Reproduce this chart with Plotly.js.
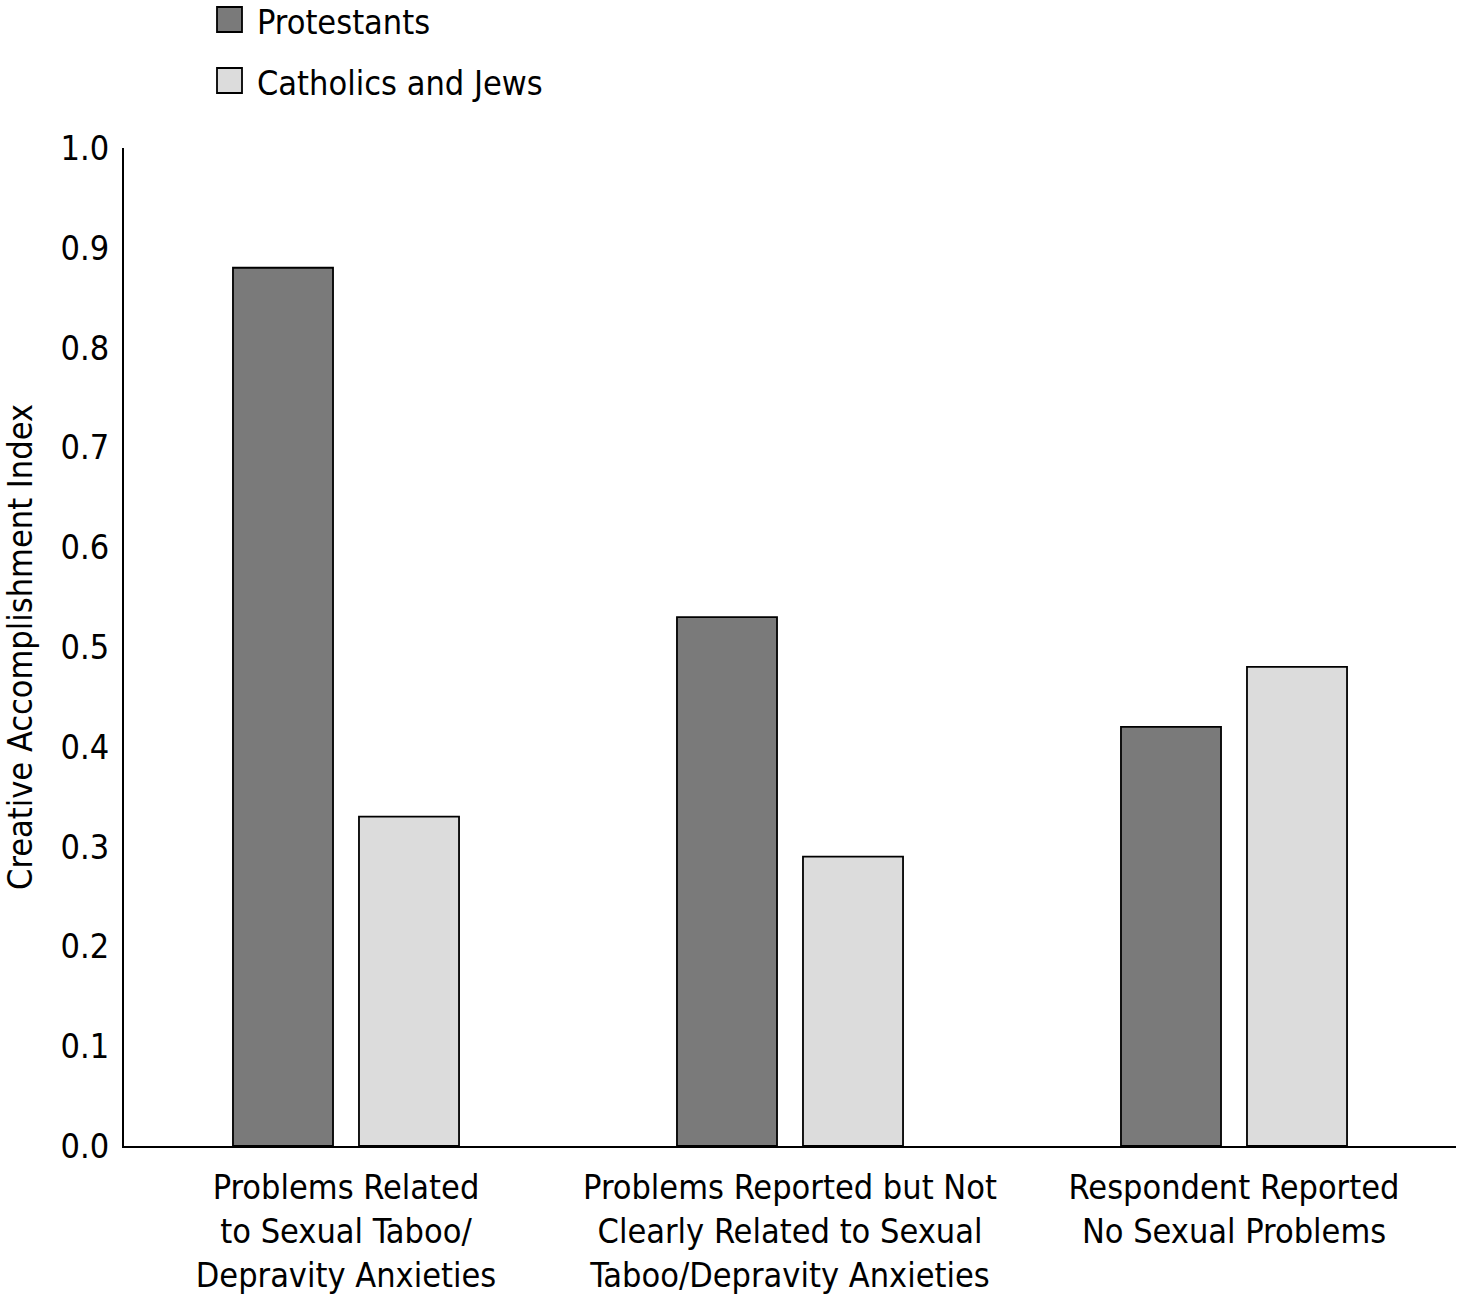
<!DOCTYPE html>
<html>
<head>
<meta charset="utf-8">
<script src="https://cdn.plot.ly/plotly-3.0.1.min.js"></script>
<style>html,body{margin:0;padding:0;background:#fff;}#chart{width:1458px;height:1307px;}</style>
</head>
<body>
<div id="chart"></div>
<script>
const categories = [
  "Problems Related<br>to Sexual Taboo/<br>Depravity Anxieties",
  "Problems Reported but Not<br>Clearly Related to Sexual<br>Taboo/Depravity Anxieties",
  "Respondent Reported<br>No Sexual Problems"
];
const seriesNames = ["Protestants", "Catholics and Jews"];
const protestants = [0.88, 0.53, 0.42];
const catholicsJews = [0.33, 0.29, 0.48];
const yTicks = [0.0, 0.1, 0.2, 0.3, 0.4, 0.5, 0.6, 0.7, 0.8, 0.9, 1.0];

const FONT = "'Liberation Sans Narrow', 'DejaVu Sans Condensed', 'Roboto Condensed', Arial, sans-serif";
const colors = ["#7a7a7a", "#dcdcdc"];

const traces = [protestants, catholicsJews].map((vals, i) => ({
  type: "bar",
  name: seriesNames[i],
  x: categories,
  y: vals,
  marker: {color: colors[i], line: {color: "#000", width: 1.8}},
  showlegend: false,
  hoverinfo: "none"
}));

// manual legend (larger swatches than Plotly's legend symbols)
const shapes = [];
const annotations = [];
seriesNames.forEach((n, i) => {
  const top = i * 61;
  shapes.push({
    type: "rect", xref: "paper", yref: "paper",
    x0: (217 - 124) / 1332, x1: (242 - 124) / 1332,
    y0: 1 + (148 - top - 7) / 998, y1: 1 + (148 - top - 32) / 998,
    fillcolor: colors[i], line: {color: "#000", width: 1.8}
  });
  annotations.push({
    xref: "paper", yref: "paper",
    x: (255 - 124) / 1332, y: 1 + (148 - top) / 998,
    xanchor: "left", yanchor: "top",
    text: n, showarrow: false,
    font: {family: FONT, size: 34, color: "#000"}
  });
});

const layout = {
  width: 1458, height: 1307,
  margin: {l: 124, r: 2, t: 148, b: 161, pad: 0},
  paper_bgcolor: "#fff", plot_bgcolor: "#fff",
  font: {family: FONT, size: 34, color: "#000"},
  barmode: "group",
  bargap: 0.4324,
  bargroupgap: 0.206,
  xaxis: {
    type: "category",
    range: [-0.5, 2.5],
    showline: true, linecolor: "#000", linewidth: 2,
    showgrid: false, zeroline: false, ticks: "",
    tickfont: {family: FONT, size: 34, color: "#000"},
    ticklabelstandoff: 10
  },
  yaxis: {
    range: [0, 1.0],
    tickvals: yTicks,
    ticktext: yTicks.map(v => v.toFixed(1)),
    showline: true, linecolor: "#000", linewidth: 2,
    showgrid: false, zeroline: false, ticks: "",
    tickfont: {family: FONT, size: 34, color: "#000"},
    ticklabelstandoff: 6,
    title: {text: "Creative Accomplishment Index", font: {family: FONT, size: 34, color: "#000"}, standoff: 22}
  },
  shapes: shapes,
  annotations: annotations
};

Plotly.newPlot("chart", traces, layout, {displayModeBar: false, staticPlot: true});
</script>
</body>
</html>
